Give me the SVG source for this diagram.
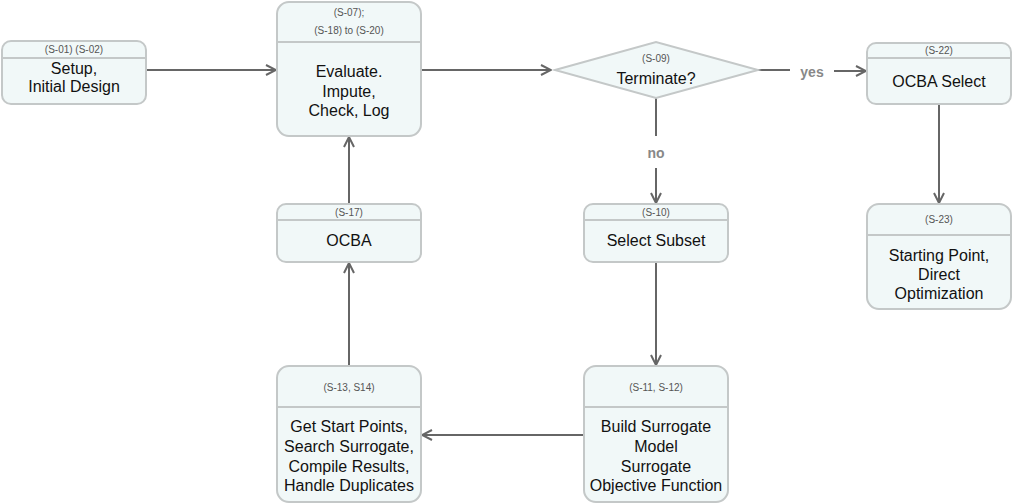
<svg xmlns="http://www.w3.org/2000/svg" width="1013" height="504" viewBox="0 0 1013 504">
<style>
.box{fill:#f1f8f8;stroke:#c4c8c8;stroke-width:2}
.div{stroke:#c4c8c8;stroke-width:2}
.hd{font-family:"Liberation Sans",Arial,sans-serif;font-size:10px;fill:#555;text-anchor:middle}
.tx{font-family:"Liberation Sans",Arial,sans-serif;font-size:16px;fill:#111;text-anchor:middle}
.edge{fill:none;stroke:#666;stroke-width:2}
.lbl{font-family:"Liberation Sans",Arial,sans-serif;font-size:14px;font-weight:bold;fill:#888;text-anchor:middle}
</style>
<defs>
<marker id="ah" viewBox="0 0 12 12" refX="11" refY="6" markerWidth="12" markerHeight="12" markerUnits="userSpaceOnUse" orient="auto">
<path d="M1,1 L11,6 L1,11" fill="none" stroke="#666" stroke-width="2"/>
</marker>
</defs>
<rect width="1013" height="504" fill="#ffffff"/>
<g id="connectors">
<line class="edge" x1="146" y1="70" x2="276" y2="70" marker-end="url(#ah)"/>
<line class="edge" x1="421" y1="70" x2="551" y2="70" marker-end="url(#ah)"/>
<line class="edge" x1="758" y1="70" x2="790" y2="70"/>
<line class="edge" x1="834" y1="71" x2="866" y2="71" marker-end="url(#ah)"/>
<text class="lbl" x="812" y="77">yes</text>
<line class="edge" x1="656" y1="98" x2="656" y2="136"/>
<text class="lbl" x="656" y="158">no</text>
<line class="edge" x1="656" y1="168" x2="656" y2="203" marker-end="url(#ah)"/>
<line class="edge" x1="939" y1="104" x2="939" y2="203" marker-end="url(#ah)"/>
<line class="edge" x1="656" y1="262" x2="656" y2="365" marker-end="url(#ah)"/>
<line class="edge" x1="584" y1="435" x2="422" y2="435" marker-end="url(#ah)"/>
<line class="edge" x1="349" y1="366" x2="349" y2="263" marker-end="url(#ah)"/>
<line class="edge" x1="349" y1="204" x2="349" y2="137" marker-end="url(#ah)"/>
</g>
<g id="n1">
<rect class="box" x="2" y="41" width="144" height="63" rx="9"/>
<line class="div" x1="2" y1="58" x2="146" y2="58"/>
<text class="hd" x="74" y="53">(S-01) (S-02)</text>
<text class="tx" x="74" y="74">Setup,</text>
<text class="tx" x="74" y="92">Initial Design</text>
</g>
<g id="n2">
<rect class="box" x="277" y="2" width="144" height="134" rx="12"/>
<line class="div" x1="277" y1="42" x2="421" y2="42"/>
<text class="hd" x="349" y="16">(S-07);</text>
<text class="hd" x="349" y="34">(S-18) to (S-20)</text>
<text class="tx" x="349" y="77">Evaluate.</text>
<text class="tx" x="349" y="97">Impute,</text>
<text class="tx" x="349" y="116">Check, Log</text>
</g>
<g id="n3">
<polygon class="box" points="555,70 656,42 758,70 656,98"/>
<text class="hd" x="656" y="62">(S-09)</text>
<text class="tx" x="656" y="84">Terminate?</text>
</g>
<g id="n4">
<rect class="box" x="867" y="43" width="144" height="61" rx="9"/>
<line class="div" x1="867" y1="58" x2="1011" y2="58"/>
<text class="hd" x="939" y="54">(S-22)</text>
<text class="tx" x="939" y="87">OCBA Select</text>
</g>
<g id="n5">
<rect class="box" x="867" y="204" width="144" height="105" rx="12"/>
<line class="div" x1="867" y1="235" x2="1011" y2="235"/>
<text class="hd" x="939" y="223">(S-23)</text>
<text class="tx" x="939" y="261">Starting Point,</text>
<text class="tx" x="939" y="280">Direct</text>
<text class="tx" x="939" y="299">Optimization</text>
</g>
<g id="n6">
<rect class="box" x="584" y="204" width="144" height="58" rx="9"/>
<line class="div" x1="584" y1="220" x2="728" y2="220"/>
<text class="hd" x="656" y="216">(S-10)</text>
<text class="tx" x="656" y="246">Select Subset</text>
</g>
<g id="n7">
<rect class="box" x="277" y="204" width="144" height="58" rx="9"/>
<line class="div" x1="277" y1="220" x2="421" y2="220"/>
<text class="hd" x="349" y="216">(S-17)</text>
<text class="tx" x="349" y="246">OCBA</text>
</g>
<g id="n8">
<rect class="box" x="277" y="366" width="144" height="136" rx="12"/>
<line class="div" x1="277" y1="407" x2="421" y2="407"/>
<text class="hd" x="349" y="391">(S-13, S14)</text>
<text class="tx" x="349" y="432">Get Start Points,</text>
<text class="tx" x="349" y="452">Search Surrogate,</text>
<text class="tx" x="349" y="472">Compile Results,</text>
<text class="tx" x="349" y="491">Handle Duplicates</text>
</g>
<g id="n9">
<rect class="box" x="584" y="366" width="144" height="136" rx="12"/>
<line class="div" x1="584" y1="407" x2="728" y2="407"/>
<text class="hd" x="656" y="391">(S-11, S-12)</text>
<text class="tx" x="656" y="432">Build Surrogate</text>
<text class="tx" x="656" y="452">Model</text>
<text class="tx" x="656" y="472">Surrogate</text>
<text class="tx" x="656" y="491">Objective Function</text>
</g>
</svg>
